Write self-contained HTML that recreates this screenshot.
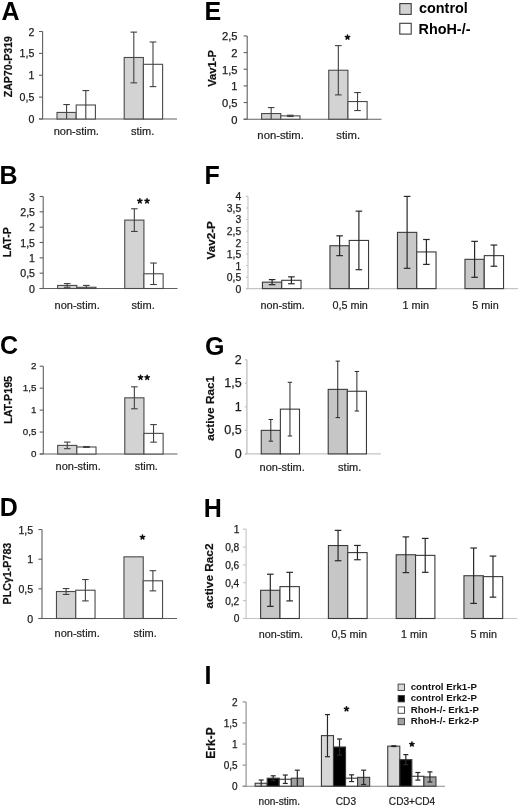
<!DOCTYPE html>
<html><head><meta charset="utf-8"><style>
html,body{margin:0;padding:0;background:#fff;}
svg{display:block;will-change:transform;font-family:"Liberation Sans", sans-serif;}
</style></head><body>
<svg width="520" height="807" viewBox="0 0 520 807">
<rect width="520" height="807" fill="#fff"/>
<line x1="42.6" y1="31.50" x2="42.6" y2="119" stroke="#606060" stroke-width="1.1"/>
<line x1="39.0" y1="119" x2="177" y2="119" stroke="#606060" stroke-width="1.1"/>
<rect x="57.00" y="112.44" width="19.20" height="6.56" fill="#d3d3d3" stroke="#4a4a4a" stroke-width="1.1"/>
<rect x="76.20" y="105.00" width="19.20" height="14.00" fill="#ffffff" stroke="#4a4a4a" stroke-width="1.1"/>
<line x1="66.60" y1="104.56" x2="66.60" y2="119.00" stroke="#404040" stroke-width="1.1"/>
<line x1="63.30" y1="104.56" x2="69.90" y2="104.56" stroke="#404040" stroke-width="1.1"/>
<line x1="85.80" y1="90.56" x2="85.80" y2="119.00" stroke="#404040" stroke-width="1.1"/>
<line x1="82.50" y1="90.56" x2="89.10" y2="90.56" stroke="#404040" stroke-width="1.1"/>
<rect x="124.20" y="57.49" width="19.20" height="61.51" fill="#d3d3d3" stroke="#4a4a4a" stroke-width="1.1"/>
<rect x="143.40" y="64.31" width="19.20" height="54.69" fill="#ffffff" stroke="#4a4a4a" stroke-width="1.1"/>
<line x1="133.80" y1="32.11" x2="133.80" y2="82.86" stroke="#404040" stroke-width="1.1"/>
<line x1="130.50" y1="32.11" x2="137.10" y2="32.11" stroke="#404040" stroke-width="1.1"/>
<line x1="130.50" y1="82.86" x2="137.10" y2="82.86" stroke="#404040" stroke-width="1.1"/>
<line x1="153.00" y1="42.00" x2="153.00" y2="86.62" stroke="#404040" stroke-width="1.1"/>
<line x1="149.70" y1="42.00" x2="156.30" y2="42.00" stroke="#404040" stroke-width="1.1"/>
<line x1="149.70" y1="86.62" x2="156.30" y2="86.62" stroke="#404040" stroke-width="1.1"/>
<line x1="39.0" y1="119.00" x2="42.6" y2="119.00" stroke="#606060" stroke-width="1.1"/>
<text x="34.3" y="123.09" text-anchor="end" font-size="10.6" font-weight="normal" fill="#1c1c1c" stroke="#1c1c1c" stroke-width="0.25">0</text>
<line x1="39.0" y1="97.12" x2="42.6" y2="97.12" stroke="#606060" stroke-width="1.1"/>
<text x="34.3" y="101.22" text-anchor="end" font-size="10.6" font-weight="normal" fill="#1c1c1c" stroke="#1c1c1c" stroke-width="0.25">0,5</text>
<line x1="39.0" y1="75.25" x2="42.6" y2="75.25" stroke="#606060" stroke-width="1.1"/>
<text x="34.3" y="79.34" text-anchor="end" font-size="10.6" font-weight="normal" fill="#1c1c1c" stroke="#1c1c1c" stroke-width="0.25">1</text>
<line x1="39.0" y1="53.38" x2="42.6" y2="53.38" stroke="#606060" stroke-width="1.1"/>
<text x="34.3" y="57.47" text-anchor="end" font-size="10.6" font-weight="normal" fill="#1c1c1c" stroke="#1c1c1c" stroke-width="0.25">1,5</text>
<line x1="39.0" y1="31.50" x2="42.6" y2="31.50" stroke="#606060" stroke-width="1.1"/>
<text x="34.3" y="35.59" text-anchor="end" font-size="10.6" font-weight="normal" fill="#1c1c1c" stroke="#1c1c1c" stroke-width="0.25">2</text>
<text x="76.3" y="135.2" text-anchor="middle" font-size="11" fill="#1c1c1c" stroke="#1c1c1c" stroke-width="0.2">non-stim.</text>
<text x="142.6" y="135.2" text-anchor="middle" font-size="11" fill="#1c1c1c" stroke="#1c1c1c" stroke-width="0.2">stim.</text>
<text transform="translate(11.8,66.7) rotate(-90)" text-anchor="middle" font-size="10.6" font-weight="bold" fill="#111" stroke="#111" stroke-width="0.2">ZAP70-P319</text>
<text x="1.6" y="19.6" font-size="25" font-weight="bold" fill="#000">A</text>
<line x1="43.2" y1="196.49" x2="43.2" y2="288.5" stroke="#606060" stroke-width="1.1"/>
<line x1="39.6" y1="288.5" x2="177.5" y2="288.5" stroke="#606060" stroke-width="1.1"/>
<rect x="57.59" y="285.43" width="19.19" height="3.07" fill="#d3d3d3" stroke="#4a4a4a" stroke-width="1.1"/>
<rect x="76.78" y="287.27" width="19.19" height="1.23" fill="#ffffff" stroke="#4a4a4a" stroke-width="1.1"/>
<line x1="67.18" y1="283.59" x2="67.18" y2="287.27" stroke="#404040" stroke-width="1.1"/>
<line x1="63.88" y1="283.59" x2="70.48" y2="283.59" stroke="#404040" stroke-width="1.1"/>
<line x1="63.88" y1="287.27" x2="70.48" y2="287.27" stroke="#404040" stroke-width="1.1"/>
<line x1="86.37" y1="285.43" x2="86.37" y2="288.50" stroke="#404040" stroke-width="1.1"/>
<line x1="83.07" y1="285.43" x2="89.67" y2="285.43" stroke="#404040" stroke-width="1.1"/>
<rect x="124.74" y="220.11" width="19.19" height="68.39" fill="#d3d3d3" stroke="#4a4a4a" stroke-width="1.1"/>
<rect x="143.93" y="273.78" width="19.19" height="14.72" fill="#ffffff" stroke="#4a4a4a" stroke-width="1.1"/>
<line x1="134.33" y1="208.76" x2="134.33" y2="231.45" stroke="#404040" stroke-width="1.1"/>
<line x1="131.03" y1="208.76" x2="137.63" y2="208.76" stroke="#404040" stroke-width="1.1"/>
<line x1="131.03" y1="231.45" x2="137.63" y2="231.45" stroke="#404040" stroke-width="1.1"/>
<line x1="153.52" y1="263.04" x2="153.52" y2="284.51" stroke="#404040" stroke-width="1.1"/>
<line x1="150.22" y1="263.04" x2="156.82" y2="263.04" stroke="#404040" stroke-width="1.1"/>
<line x1="150.22" y1="284.51" x2="156.82" y2="284.51" stroke="#404040" stroke-width="1.1"/>
<line x1="39.6" y1="288.50" x2="43.2" y2="288.50" stroke="#606060" stroke-width="1.1"/>
<text x="35.0" y="292.59" text-anchor="end" font-size="10.6" font-weight="normal" fill="#1c1c1c" stroke="#1c1c1c" stroke-width="0.25">0</text>
<line x1="39.6" y1="273.17" x2="43.2" y2="273.17" stroke="#606060" stroke-width="1.1"/>
<text x="35.0" y="277.26" text-anchor="end" font-size="10.6" font-weight="normal" fill="#1c1c1c" stroke="#1c1c1c" stroke-width="0.25">0,5</text>
<line x1="39.6" y1="257.83" x2="43.2" y2="257.83" stroke="#606060" stroke-width="1.1"/>
<text x="35.0" y="261.92" text-anchor="end" font-size="10.6" font-weight="normal" fill="#1c1c1c" stroke="#1c1c1c" stroke-width="0.25">1</text>
<line x1="39.6" y1="242.50" x2="43.2" y2="242.50" stroke="#606060" stroke-width="1.1"/>
<text x="35.0" y="246.59" text-anchor="end" font-size="10.6" font-weight="normal" fill="#1c1c1c" stroke="#1c1c1c" stroke-width="0.25">1,5</text>
<line x1="39.6" y1="227.16" x2="43.2" y2="227.16" stroke="#606060" stroke-width="1.1"/>
<text x="35.0" y="231.25" text-anchor="end" font-size="10.6" font-weight="normal" fill="#1c1c1c" stroke="#1c1c1c" stroke-width="0.25">2</text>
<line x1="39.6" y1="211.82" x2="43.2" y2="211.82" stroke="#606060" stroke-width="1.1"/>
<text x="35.0" y="215.92" text-anchor="end" font-size="10.6" font-weight="normal" fill="#1c1c1c" stroke="#1c1c1c" stroke-width="0.25">2,5</text>
<line x1="39.6" y1="196.49" x2="43.2" y2="196.49" stroke="#606060" stroke-width="1.1"/>
<text x="35.0" y="200.58" text-anchor="end" font-size="10.6" font-weight="normal" fill="#1c1c1c" stroke="#1c1c1c" stroke-width="0.25">3</text>
<text x="77.2" y="308.7" text-anchor="middle" font-size="11" fill="#1c1c1c" stroke="#1c1c1c" stroke-width="0.2">non-stim.</text>
<text x="143.1" y="308.7" text-anchor="middle" font-size="11" fill="#1c1c1c" stroke="#1c1c1c" stroke-width="0.2">stim.</text>
<text transform="translate(10.8,242.1) rotate(-90)" text-anchor="middle" font-size="10.7" font-weight="bold" fill="#111" stroke="#111" stroke-width="0.2">LAT-P</text>
<text x="-0.6" y="183.8" font-size="25" font-weight="bold" fill="#000">B</text>
<path d="M139.85,201.05L139.85,198.80M139.85,201.05L141.99,200.35M139.85,201.05L141.17,202.87M139.85,201.05L138.53,202.87M139.85,201.05L137.71,200.35" stroke="#111" stroke-width="1.55" stroke-linecap="round" fill="none"/>
<circle cx="139.85" cy="201.05" r="1.2" fill="#111"/>
<path d="M147.05,201.05L147.05,198.80M147.05,201.05L149.19,200.35M147.05,201.05L148.37,202.87M147.05,201.05L145.73,202.87M147.05,201.05L144.91,200.35" stroke="#111" stroke-width="1.55" stroke-linecap="round" fill="none"/>
<circle cx="147.05" cy="201.05" r="1.2" fill="#111"/>
<line x1="43.3" y1="366.20" x2="43.3" y2="454" stroke="#606060" stroke-width="1.1"/>
<line x1="39.699999999999996" y1="454" x2="177.5" y2="454" stroke="#606060" stroke-width="1.1"/>
<rect x="57.68" y="445.40" width="19.17" height="8.60" fill="#d3d3d3" stroke="#4a4a4a" stroke-width="1.1"/>
<rect x="76.85" y="446.98" width="19.17" height="7.02" fill="#ffffff" stroke="#4a4a4a" stroke-width="1.1"/>
<line x1="67.26" y1="442.10" x2="67.26" y2="448.69" stroke="#404040" stroke-width="1.1"/>
<line x1="63.96" y1="442.10" x2="70.56" y2="442.10" stroke="#404040" stroke-width="1.1"/>
<line x1="63.96" y1="448.69" x2="70.56" y2="448.69" stroke="#404040" stroke-width="1.1"/>
<line x1="86.44" y1="446.54" x2="86.44" y2="447.42" stroke="#404040" stroke-width="1.1"/>
<line x1="83.14" y1="446.54" x2="89.74" y2="446.54" stroke="#404040" stroke-width="1.1"/>
<line x1="83.14" y1="447.42" x2="89.74" y2="447.42" stroke="#404040" stroke-width="1.1"/>
<rect x="124.78" y="397.81" width="19.17" height="56.19" fill="#d3d3d3" stroke="#4a4a4a" stroke-width="1.1"/>
<rect x="143.95" y="433.37" width="19.17" height="20.63" fill="#ffffff" stroke="#4a4a4a" stroke-width="1.1"/>
<line x1="134.36" y1="386.83" x2="134.36" y2="408.78" stroke="#404040" stroke-width="1.1"/>
<line x1="131.06" y1="386.83" x2="137.66" y2="386.83" stroke="#404040" stroke-width="1.1"/>
<line x1="131.06" y1="408.78" x2="137.66" y2="408.78" stroke="#404040" stroke-width="1.1"/>
<line x1="153.54" y1="424.59" x2="153.54" y2="442.15" stroke="#404040" stroke-width="1.1"/>
<line x1="150.24" y1="424.59" x2="156.84" y2="424.59" stroke="#404040" stroke-width="1.1"/>
<line x1="150.24" y1="442.15" x2="156.84" y2="442.15" stroke="#404040" stroke-width="1.1"/>
<line x1="39.699999999999996" y1="454.00" x2="43.3" y2="454.00" stroke="#606060" stroke-width="1.1"/>
<text x="36.4" y="456.71" text-anchor="end" font-size="9.8" font-weight="normal" fill="#1c1c1c" stroke="#1c1c1c" stroke-width="0.25">0</text>
<line x1="39.699999999999996" y1="432.05" x2="43.3" y2="432.05" stroke="#606060" stroke-width="1.1"/>
<text x="36.4" y="434.76" text-anchor="end" font-size="9.8" font-weight="normal" fill="#1c1c1c" stroke="#1c1c1c" stroke-width="0.25">0,5</text>
<line x1="39.699999999999996" y1="410.10" x2="43.3" y2="410.10" stroke="#606060" stroke-width="1.1"/>
<text x="36.4" y="412.81" text-anchor="end" font-size="9.8" font-weight="normal" fill="#1c1c1c" stroke="#1c1c1c" stroke-width="0.25">1</text>
<line x1="39.699999999999996" y1="388.15" x2="43.3" y2="388.15" stroke="#606060" stroke-width="1.1"/>
<text x="36.4" y="390.86" text-anchor="end" font-size="9.8" font-weight="normal" fill="#1c1c1c" stroke="#1c1c1c" stroke-width="0.25">1,5</text>
<line x1="39.699999999999996" y1="366.20" x2="43.3" y2="366.20" stroke="#606060" stroke-width="1.1"/>
<text x="36.4" y="368.91" text-anchor="end" font-size="9.8" font-weight="normal" fill="#1c1c1c" stroke="#1c1c1c" stroke-width="0.25">2</text>
<text x="78.2" y="470.1" text-anchor="middle" font-size="11" fill="#1c1c1c" stroke="#1c1c1c" stroke-width="0.2">non-stim.</text>
<text x="146.3" y="470.1" text-anchor="middle" font-size="11" fill="#1c1c1c" stroke="#1c1c1c" stroke-width="0.2">stim.</text>
<text transform="translate(11.7,399.9) rotate(-90)" text-anchor="middle" font-size="10.7" font-weight="bold" fill="#111" stroke="#111" stroke-width="0.2">LAT-P195</text>
<text x="0.1" y="354.3" font-size="25" font-weight="bold" fill="#000">C</text>
<path d="M140.55,377.55L140.55,375.30M140.55,377.55L142.69,376.85M140.55,377.55L141.87,379.37M140.55,377.55L139.23,379.37M140.55,377.55L138.41,376.85" stroke="#111" stroke-width="1.55" stroke-linecap="round" fill="none"/>
<circle cx="140.55" cy="377.55" r="1.2" fill="#111"/>
<path d="M147.15,377.55L147.15,375.30M147.15,377.55L149.29,376.85M147.15,377.55L148.47,379.37M147.15,377.55L145.83,379.37M147.15,377.55L145.01,376.85" stroke="#111" stroke-width="1.55" stroke-linecap="round" fill="none"/>
<circle cx="147.15" cy="377.55" r="1.2" fill="#111"/>
<line x1="42.0" y1="529.55" x2="42.0" y2="618.5" stroke="#606060" stroke-width="1.1"/>
<line x1="38.4" y1="618.5" x2="177" y2="618.5" stroke="#606060" stroke-width="1.1"/>
<rect x="56.46" y="591.52" width="19.29" height="26.98" fill="#d3d3d3" stroke="#4a4a4a" stroke-width="1.1"/>
<rect x="75.75" y="590.21" width="19.29" height="28.29" fill="#ffffff" stroke="#4a4a4a" stroke-width="1.1"/>
<line x1="66.11" y1="588.55" x2="66.11" y2="594.48" stroke="#404040" stroke-width="1.1"/>
<line x1="62.81" y1="588.55" x2="69.41" y2="588.55" stroke="#404040" stroke-width="1.1"/>
<line x1="62.81" y1="594.48" x2="69.41" y2="594.48" stroke="#404040" stroke-width="1.1"/>
<line x1="85.39" y1="579.54" x2="85.39" y2="600.89" stroke="#404040" stroke-width="1.1"/>
<line x1="82.09" y1="579.54" x2="88.69" y2="579.54" stroke="#404040" stroke-width="1.1"/>
<line x1="82.09" y1="600.89" x2="88.69" y2="600.89" stroke="#404040" stroke-width="1.1"/>
<rect x="123.96" y="556.83" width="19.29" height="61.67" fill="#d3d3d3" stroke="#4a4a4a" stroke-width="1.1"/>
<rect x="143.25" y="580.79" width="19.29" height="37.71" fill="#ffffff" stroke="#4a4a4a" stroke-width="1.1"/>
<line x1="152.89" y1="570.70" x2="152.89" y2="590.87" stroke="#404040" stroke-width="1.1"/>
<line x1="149.59" y1="570.70" x2="156.19" y2="570.70" stroke="#404040" stroke-width="1.1"/>
<line x1="149.59" y1="590.87" x2="156.19" y2="590.87" stroke="#404040" stroke-width="1.1"/>
<line x1="38.4" y1="618.50" x2="42.0" y2="618.50" stroke="#606060" stroke-width="1.1"/>
<text x="33.2" y="622.59" text-anchor="end" font-size="10.6" font-weight="normal" fill="#1c1c1c" stroke="#1c1c1c" stroke-width="0.25">0</text>
<line x1="38.4" y1="588.85" x2="42.0" y2="588.85" stroke="#606060" stroke-width="1.1"/>
<text x="33.2" y="592.94" text-anchor="end" font-size="10.6" font-weight="normal" fill="#1c1c1c" stroke="#1c1c1c" stroke-width="0.25">0,5</text>
<line x1="38.4" y1="559.20" x2="42.0" y2="559.20" stroke="#606060" stroke-width="1.1"/>
<text x="33.2" y="563.29" text-anchor="end" font-size="10.6" font-weight="normal" fill="#1c1c1c" stroke="#1c1c1c" stroke-width="0.25">1</text>
<line x1="38.4" y1="529.55" x2="42.0" y2="529.55" stroke="#606060" stroke-width="1.1"/>
<text x="33.2" y="533.64" text-anchor="end" font-size="10.6" font-weight="normal" fill="#1c1c1c" stroke="#1c1c1c" stroke-width="0.25">1,5</text>
<text x="77.2" y="636.8" text-anchor="middle" font-size="11" fill="#1c1c1c" stroke="#1c1c1c" stroke-width="0.2">non-stim.</text>
<text x="145.2" y="636.8" text-anchor="middle" font-size="11" fill="#1c1c1c" stroke="#1c1c1c" stroke-width="0.2">stim.</text>
<text transform="translate(10.8,573.6) rotate(-90)" text-anchor="middle" font-size="10.7" font-weight="bold" fill="#111" stroke="#111" stroke-width="0.2">PLC&#947;1-P783</text>
<text x="-0.2" y="516.3" font-size="25" font-weight="bold" fill="#000">D</text>
<path d="M142.50,537.15L142.50,534.90M142.50,537.15L144.64,536.45M142.50,537.15L143.82,538.97M142.50,537.15L141.18,538.97M142.50,537.15L140.36,536.45" stroke="#111" stroke-width="1.55" stroke-linecap="round" fill="none"/>
<circle cx="142.50" cy="537.15" r="1.2" fill="#111"/>
<line x1="247.2" y1="35.95" x2="247.2" y2="119.2" stroke="#606060" stroke-width="1.1"/>
<line x1="243.6" y1="119.2" x2="381.5" y2="119.2" stroke="#606060" stroke-width="1.1"/>
<rect x="261.59" y="113.54" width="19.19" height="5.66" fill="#d3d3d3" stroke="#4a4a4a" stroke-width="1.1"/>
<rect x="280.78" y="115.87" width="19.19" height="3.33" fill="#ffffff" stroke="#4a4a4a" stroke-width="1.1"/>
<line x1="271.18" y1="107.55" x2="271.18" y2="119.20" stroke="#404040" stroke-width="1.1"/>
<line x1="267.88" y1="107.55" x2="274.48" y2="107.55" stroke="#404040" stroke-width="1.1"/>
<line x1="290.37" y1="115.20" x2="290.37" y2="116.54" stroke="#404040" stroke-width="1.1"/>
<line x1="287.07" y1="115.20" x2="293.67" y2="115.20" stroke="#404040" stroke-width="1.1"/>
<line x1="287.07" y1="116.54" x2="293.67" y2="116.54" stroke="#404040" stroke-width="1.1"/>
<rect x="328.74" y="70.25" width="19.19" height="48.95" fill="#d3d3d3" stroke="#4a4a4a" stroke-width="1.1"/>
<rect x="347.93" y="101.55" width="19.19" height="17.65" fill="#ffffff" stroke="#4a4a4a" stroke-width="1.1"/>
<line x1="338.33" y1="45.61" x2="338.33" y2="94.89" stroke="#404040" stroke-width="1.1"/>
<line x1="335.03" y1="45.61" x2="341.63" y2="45.61" stroke="#404040" stroke-width="1.1"/>
<line x1="335.03" y1="94.89" x2="341.63" y2="94.89" stroke="#404040" stroke-width="1.1"/>
<line x1="357.52" y1="92.56" x2="357.52" y2="110.54" stroke="#404040" stroke-width="1.1"/>
<line x1="354.22" y1="92.56" x2="360.82" y2="92.56" stroke="#404040" stroke-width="1.1"/>
<line x1="354.22" y1="110.54" x2="360.82" y2="110.54" stroke="#404040" stroke-width="1.1"/>
<line x1="243.6" y1="119.20" x2="247.2" y2="119.20" stroke="#606060" stroke-width="1.1"/>
<text x="237.5" y="123.51" text-anchor="end" font-size="11.2" font-weight="normal" fill="#1c1c1c" stroke="#1c1c1c" stroke-width="0.25">0</text>
<line x1="243.6" y1="102.55" x2="247.2" y2="102.55" stroke="#606060" stroke-width="1.1"/>
<text x="237.5" y="106.86" text-anchor="end" font-size="11.2" font-weight="normal" fill="#1c1c1c" stroke="#1c1c1c" stroke-width="0.25">0,5</text>
<line x1="243.6" y1="85.90" x2="247.2" y2="85.90" stroke="#606060" stroke-width="1.1"/>
<text x="237.5" y="90.21" text-anchor="end" font-size="11.2" font-weight="normal" fill="#1c1c1c" stroke="#1c1c1c" stroke-width="0.25">1</text>
<line x1="243.6" y1="69.25" x2="247.2" y2="69.25" stroke="#606060" stroke-width="1.1"/>
<text x="237.5" y="73.56" text-anchor="end" font-size="11.2" font-weight="normal" fill="#1c1c1c" stroke="#1c1c1c" stroke-width="0.25">1,5</text>
<line x1="243.6" y1="52.60" x2="247.2" y2="52.60" stroke="#606060" stroke-width="1.1"/>
<text x="237.5" y="56.91" text-anchor="end" font-size="11.2" font-weight="normal" fill="#1c1c1c" stroke="#1c1c1c" stroke-width="0.25">2</text>
<line x1="243.6" y1="35.95" x2="247.2" y2="35.95" stroke="#606060" stroke-width="1.1"/>
<text x="237.5" y="40.26" text-anchor="end" font-size="11.2" font-weight="normal" fill="#1c1c1c" stroke="#1c1c1c" stroke-width="0.25">2,5</text>
<text x="280.6" y="138.8" text-anchor="middle" font-size="11.3" fill="#1c1c1c" stroke="#1c1c1c" stroke-width="0.2">non-stim.</text>
<text x="348.2" y="138.8" text-anchor="middle" font-size="11.3" fill="#1c1c1c" stroke="#1c1c1c" stroke-width="0.2">stim.</text>
<text transform="translate(215.9,68.5) rotate(-90)" text-anchor="middle" font-size="11.2" font-weight="bold" fill="#111" stroke="#111" stroke-width="0.2">Vav1-P</text>
<text x="204.6" y="19.9" font-size="25" font-weight="bold" fill="#000">E</text>
<path d="M347.50,37.25L347.50,35.00M347.50,37.25L349.64,36.55M347.50,37.25L348.82,39.07M347.50,37.25L346.18,39.07M347.50,37.25L345.36,36.55" stroke="#111" stroke-width="1.55" stroke-linecap="round" fill="none"/>
<circle cx="347.50" cy="37.25" r="1.2" fill="#111"/>
<line x1="248.0" y1="196.40" x2="248.0" y2="288.6" stroke="#c4c4c4" stroke-width="1.1"/>
<line x1="246.0" y1="288.6" x2="518" y2="288.6" stroke="#c4c4c4" stroke-width="1.1"/>
<rect x="262.46" y="282.15" width="19.29" height="6.45" fill="#c9c9c9" stroke="#3a3a3a" stroke-width="1.1"/>
<rect x="281.75" y="280.30" width="19.29" height="8.30" fill="#ffffff" stroke="#3a3a3a" stroke-width="1.1"/>
<line x1="272.11" y1="279.61" x2="272.11" y2="284.68" stroke="#282828" stroke-width="1.2"/>
<line x1="268.81" y1="279.61" x2="275.41" y2="279.61" stroke="#282828" stroke-width="1.2"/>
<line x1="268.81" y1="284.68" x2="275.41" y2="284.68" stroke="#282828" stroke-width="1.2"/>
<line x1="291.39" y1="276.84" x2="291.39" y2="283.76" stroke="#282828" stroke-width="1.2"/>
<line x1="288.09" y1="276.84" x2="294.69" y2="276.84" stroke="#282828" stroke-width="1.2"/>
<line x1="288.09" y1="283.76" x2="294.69" y2="283.76" stroke="#282828" stroke-width="1.2"/>
<rect x="329.96" y="245.73" width="19.29" height="42.87" fill="#c9c9c9" stroke="#3a3a3a" stroke-width="1.1"/>
<rect x="349.25" y="240.43" width="19.29" height="48.17" fill="#ffffff" stroke="#3a3a3a" stroke-width="1.1"/>
<line x1="339.61" y1="235.82" x2="339.61" y2="255.64" stroke="#282828" stroke-width="1.2"/>
<line x1="336.31" y1="235.82" x2="342.91" y2="235.82" stroke="#282828" stroke-width="1.2"/>
<line x1="336.31" y1="255.64" x2="342.91" y2="255.64" stroke="#282828" stroke-width="1.2"/>
<line x1="358.89" y1="211.15" x2="358.89" y2="269.70" stroke="#282828" stroke-width="1.2"/>
<line x1="355.59" y1="211.15" x2="362.19" y2="211.15" stroke="#282828" stroke-width="1.2"/>
<line x1="355.59" y1="269.70" x2="362.19" y2="269.70" stroke="#282828" stroke-width="1.2"/>
<rect x="397.46" y="232.36" width="19.29" height="56.24" fill="#c9c9c9" stroke="#3a3a3a" stroke-width="1.1"/>
<rect x="416.75" y="251.95" width="19.29" height="36.65" fill="#ffffff" stroke="#3a3a3a" stroke-width="1.1"/>
<line x1="407.11" y1="196.40" x2="407.11" y2="268.32" stroke="#282828" stroke-width="1.2"/>
<line x1="403.81" y1="196.40" x2="410.41" y2="196.40" stroke="#282828" stroke-width="1.2"/>
<line x1="403.81" y1="268.32" x2="410.41" y2="268.32" stroke="#282828" stroke-width="1.2"/>
<line x1="426.39" y1="239.50" x2="426.39" y2="264.40" stroke="#282828" stroke-width="1.2"/>
<line x1="423.09" y1="239.50" x2="429.69" y2="239.50" stroke="#282828" stroke-width="1.2"/>
<line x1="423.09" y1="264.40" x2="429.69" y2="264.40" stroke="#282828" stroke-width="1.2"/>
<rect x="464.96" y="259.33" width="19.29" height="29.27" fill="#c9c9c9" stroke="#3a3a3a" stroke-width="1.1"/>
<rect x="484.25" y="255.64" width="19.29" height="32.96" fill="#ffffff" stroke="#3a3a3a" stroke-width="1.1"/>
<line x1="474.61" y1="241.35" x2="474.61" y2="277.31" stroke="#282828" stroke-width="1.2"/>
<line x1="471.31" y1="241.35" x2="477.91" y2="241.35" stroke="#282828" stroke-width="1.2"/>
<line x1="471.31" y1="277.31" x2="477.91" y2="277.31" stroke="#282828" stroke-width="1.2"/>
<line x1="493.89" y1="245.04" x2="493.89" y2="266.24" stroke="#282828" stroke-width="1.2"/>
<line x1="490.59" y1="245.04" x2="497.19" y2="245.04" stroke="#282828" stroke-width="1.2"/>
<line x1="490.59" y1="266.24" x2="497.19" y2="266.24" stroke="#282828" stroke-width="1.2"/>
<line x1="246.0" y1="288.60" x2="248.0" y2="288.60" stroke="#c4c4c4" stroke-width="1.1"/>
<text x="241.3" y="292.62" text-anchor="end" font-size="10.4" font-weight="normal" fill="#1c1c1c" stroke="#1c1c1c" stroke-width="0.25">0</text>
<line x1="246.0" y1="277.08" x2="248.0" y2="277.08" stroke="#c4c4c4" stroke-width="1.1"/>
<text x="241.3" y="281.10" text-anchor="end" font-size="10.4" font-weight="normal" fill="#1c1c1c" stroke="#1c1c1c" stroke-width="0.25">0,5</text>
<line x1="246.0" y1="265.55" x2="248.0" y2="265.55" stroke="#c4c4c4" stroke-width="1.1"/>
<text x="241.3" y="269.57" text-anchor="end" font-size="10.4" font-weight="normal" fill="#1c1c1c" stroke="#1c1c1c" stroke-width="0.25">1</text>
<line x1="246.0" y1="254.03" x2="248.0" y2="254.03" stroke="#c4c4c4" stroke-width="1.1"/>
<text x="241.3" y="258.05" text-anchor="end" font-size="10.4" font-weight="normal" fill="#1c1c1c" stroke="#1c1c1c" stroke-width="0.25">1,5</text>
<line x1="246.0" y1="242.50" x2="248.0" y2="242.50" stroke="#c4c4c4" stroke-width="1.1"/>
<text x="241.3" y="246.52" text-anchor="end" font-size="10.4" font-weight="normal" fill="#1c1c1c" stroke="#1c1c1c" stroke-width="0.25">2</text>
<line x1="246.0" y1="230.98" x2="248.0" y2="230.98" stroke="#c4c4c4" stroke-width="1.1"/>
<text x="241.3" y="235.00" text-anchor="end" font-size="10.4" font-weight="normal" fill="#1c1c1c" stroke="#1c1c1c" stroke-width="0.25">2,5</text>
<line x1="246.0" y1="219.45" x2="248.0" y2="219.45" stroke="#c4c4c4" stroke-width="1.1"/>
<text x="241.3" y="223.47" text-anchor="end" font-size="10.4" font-weight="normal" fill="#1c1c1c" stroke="#1c1c1c" stroke-width="0.25">3</text>
<line x1="246.0" y1="207.93" x2="248.0" y2="207.93" stroke="#c4c4c4" stroke-width="1.1"/>
<text x="241.3" y="211.95" text-anchor="end" font-size="10.4" font-weight="normal" fill="#1c1c1c" stroke="#1c1c1c" stroke-width="0.25">3,5</text>
<line x1="246.0" y1="196.40" x2="248.0" y2="196.40" stroke="#c4c4c4" stroke-width="1.1"/>
<text x="241.3" y="200.42" text-anchor="end" font-size="10.4" font-weight="normal" fill="#1c1c1c" stroke="#1c1c1c" stroke-width="0.25">4</text>
<text x="282.6" y="308.7" text-anchor="middle" font-size="10.8" fill="#1c1c1c" stroke="#1c1c1c" stroke-width="0.2">non-stim.</text>
<text x="350.1" y="308.7" text-anchor="middle" font-size="10.8" fill="#1c1c1c" stroke="#1c1c1c" stroke-width="0.2">0,5 min</text>
<text x="415.7" y="308.7" text-anchor="middle" font-size="10.8" fill="#1c1c1c" stroke="#1c1c1c" stroke-width="0.2">1 min</text>
<text x="485.5" y="308.7" text-anchor="middle" font-size="10.8" fill="#1c1c1c" stroke="#1c1c1c" stroke-width="0.2">5 min</text>
<text transform="translate(214.9,240.3) rotate(-90)" text-anchor="middle" font-size="11.7" font-weight="bold" fill="#111" stroke="#111" stroke-width="0.2">Vav2-P</text>
<text x="204.6" y="183.8" font-size="25" font-weight="bold" fill="#000">F</text>
<line x1="246.9" y1="359.70" x2="246.9" y2="453.9" stroke="#c4c4c4" stroke-width="1.4"/>
<line x1="244.9" y1="453.9" x2="380.8" y2="453.9" stroke="#c4c4c4" stroke-width="1.4"/>
<rect x="261.25" y="430.35" width="19.13" height="23.55" fill="#c6c6c6" stroke="#3a3a3a" stroke-width="1.1"/>
<rect x="280.38" y="409.15" width="19.13" height="44.75" fill="#ffffff" stroke="#3a3a3a" stroke-width="1.1"/>
<line x1="270.81" y1="419.52" x2="270.81" y2="441.18" stroke="#282828" stroke-width="1"/>
<line x1="268.61" y1="419.52" x2="273.01" y2="419.52" stroke="#282828" stroke-width="1"/>
<line x1="268.61" y1="441.18" x2="273.01" y2="441.18" stroke="#282828" stroke-width="1"/>
<line x1="289.94" y1="382.31" x2="289.94" y2="436.00" stroke="#282828" stroke-width="1"/>
<line x1="287.74" y1="382.31" x2="292.14" y2="382.31" stroke="#282828" stroke-width="1"/>
<line x1="287.74" y1="436.00" x2="292.14" y2="436.00" stroke="#282828" stroke-width="1"/>
<rect x="328.20" y="389.37" width="19.13" height="64.53" fill="#c6c6c6" stroke="#3a3a3a" stroke-width="1.1"/>
<rect x="347.33" y="391.26" width="19.13" height="62.64" fill="#ffffff" stroke="#3a3a3a" stroke-width="1.1"/>
<line x1="337.76" y1="361.11" x2="337.76" y2="417.63" stroke="#282828" stroke-width="1"/>
<line x1="335.56" y1="361.11" x2="339.96" y2="361.11" stroke="#282828" stroke-width="1"/>
<line x1="335.56" y1="417.63" x2="339.96" y2="417.63" stroke="#282828" stroke-width="1"/>
<line x1="356.89" y1="371.47" x2="356.89" y2="411.04" stroke="#282828" stroke-width="1"/>
<line x1="354.69" y1="371.47" x2="359.09" y2="371.47" stroke="#282828" stroke-width="1"/>
<line x1="354.69" y1="411.04" x2="359.09" y2="411.04" stroke="#282828" stroke-width="1"/>
<line x1="244.9" y1="453.90" x2="246.9" y2="453.90" stroke="#c4c4c4" stroke-width="1.4"/>
<text x="241.7" y="457.77" text-anchor="end" font-size="12.5" font-weight="normal" fill="#1c1c1c" stroke="#1c1c1c" stroke-width="0.25">0</text>
<line x1="244.9" y1="430.35" x2="246.9" y2="430.35" stroke="#c4c4c4" stroke-width="1.4"/>
<text x="241.7" y="434.22" text-anchor="end" font-size="12.5" font-weight="normal" fill="#1c1c1c" stroke="#1c1c1c" stroke-width="0.25">0,5</text>
<line x1="244.9" y1="406.80" x2="246.9" y2="406.80" stroke="#c4c4c4" stroke-width="1.4"/>
<text x="241.7" y="410.67" text-anchor="end" font-size="12.5" font-weight="normal" fill="#1c1c1c" stroke="#1c1c1c" stroke-width="0.25">1</text>
<line x1="244.9" y1="383.25" x2="246.9" y2="383.25" stroke="#c4c4c4" stroke-width="1.4"/>
<text x="241.7" y="387.12" text-anchor="end" font-size="12.5" font-weight="normal" fill="#1c1c1c" stroke="#1c1c1c" stroke-width="0.25">1,5</text>
<line x1="244.9" y1="359.70" x2="246.9" y2="359.70" stroke="#c4c4c4" stroke-width="1.4"/>
<text x="241.7" y="363.57" text-anchor="end" font-size="12.5" font-weight="normal" fill="#1c1c1c" stroke="#1c1c1c" stroke-width="0.25">2</text>
<text x="282.2" y="471.1" text-anchor="middle" font-size="11" fill="#1c1c1c" stroke="#1c1c1c" stroke-width="0.2">non-stim.</text>
<text x="349.7" y="471.1" text-anchor="middle" font-size="11" fill="#1c1c1c" stroke="#1c1c1c" stroke-width="0.2">stim.</text>
<text transform="translate(213.9,408.3) rotate(-90)" text-anchor="middle" font-size="11.8" font-weight="bold" fill="#111" stroke="#111" stroke-width="0.2">active Rac1</text>
<text x="204.9" y="354.5" font-size="25" font-weight="bold" fill="#000">G</text>
<line x1="246.1" y1="529.20" x2="246.1" y2="618.5" stroke="#c4c4c4" stroke-width="1.1"/>
<line x1="242.9" y1="618.5" x2="517.2" y2="618.5" stroke="#c4c4c4" stroke-width="1.1"/>
<rect x="260.62" y="590.28" width="19.36" height="28.22" fill="#c6c6c6" stroke="#3a3a3a" stroke-width="1.1"/>
<rect x="279.99" y="586.62" width="19.36" height="31.88" fill="#ffffff" stroke="#3a3a3a" stroke-width="1.1"/>
<line x1="270.31" y1="574.21" x2="270.31" y2="606.36" stroke="#282828" stroke-width="1.2"/>
<line x1="267.01" y1="574.21" x2="273.61" y2="574.21" stroke="#282828" stroke-width="1.2"/>
<line x1="267.01" y1="606.36" x2="273.61" y2="606.36" stroke="#282828" stroke-width="1.2"/>
<line x1="289.67" y1="572.33" x2="289.67" y2="600.91" stroke="#282828" stroke-width="1.2"/>
<line x1="286.37" y1="572.33" x2="292.97" y2="572.33" stroke="#282828" stroke-width="1.2"/>
<line x1="286.37" y1="600.91" x2="292.97" y2="600.91" stroke="#282828" stroke-width="1.2"/>
<rect x="328.40" y="545.54" width="19.36" height="72.96" fill="#c6c6c6" stroke="#3a3a3a" stroke-width="1.1"/>
<rect x="347.76" y="552.60" width="19.36" height="65.90" fill="#ffffff" stroke="#3a3a3a" stroke-width="1.1"/>
<line x1="338.08" y1="530.36" x2="338.08" y2="560.72" stroke="#282828" stroke-width="1.2"/>
<line x1="334.78" y1="530.36" x2="341.38" y2="530.36" stroke="#282828" stroke-width="1.2"/>
<line x1="334.78" y1="560.72" x2="341.38" y2="560.72" stroke="#282828" stroke-width="1.2"/>
<line x1="357.44" y1="545.45" x2="357.44" y2="559.74" stroke="#282828" stroke-width="1.2"/>
<line x1="354.14" y1="545.45" x2="360.74" y2="545.45" stroke="#282828" stroke-width="1.2"/>
<line x1="354.14" y1="559.74" x2="360.74" y2="559.74" stroke="#282828" stroke-width="1.2"/>
<rect x="396.17" y="554.74" width="19.36" height="63.76" fill="#c6c6c6" stroke="#3a3a3a" stroke-width="1.1"/>
<rect x="415.54" y="555.36" width="19.36" height="63.14" fill="#ffffff" stroke="#3a3a3a" stroke-width="1.1"/>
<line x1="405.86" y1="536.88" x2="405.86" y2="572.60" stroke="#282828" stroke-width="1.2"/>
<line x1="402.56" y1="536.88" x2="409.16" y2="536.88" stroke="#282828" stroke-width="1.2"/>
<line x1="402.56" y1="572.60" x2="409.16" y2="572.60" stroke="#282828" stroke-width="1.2"/>
<line x1="425.22" y1="538.40" x2="425.22" y2="572.33" stroke="#282828" stroke-width="1.2"/>
<line x1="421.92" y1="538.40" x2="428.52" y2="538.40" stroke="#282828" stroke-width="1.2"/>
<line x1="421.92" y1="572.33" x2="428.52" y2="572.33" stroke="#282828" stroke-width="1.2"/>
<rect x="463.95" y="575.73" width="19.36" height="42.77" fill="#c6c6c6" stroke="#3a3a3a" stroke-width="1.1"/>
<rect x="483.31" y="576.62" width="19.36" height="41.88" fill="#ffffff" stroke="#3a3a3a" stroke-width="1.1"/>
<line x1="473.63" y1="548.04" x2="473.63" y2="603.41" stroke="#282828" stroke-width="1.2"/>
<line x1="470.33" y1="548.04" x2="476.93" y2="548.04" stroke="#282828" stroke-width="1.2"/>
<line x1="470.33" y1="603.41" x2="476.93" y2="603.41" stroke="#282828" stroke-width="1.2"/>
<line x1="492.99" y1="556.08" x2="492.99" y2="597.16" stroke="#282828" stroke-width="1.2"/>
<line x1="489.69" y1="556.08" x2="496.29" y2="556.08" stroke="#282828" stroke-width="1.2"/>
<line x1="489.69" y1="597.16" x2="496.29" y2="597.16" stroke="#282828" stroke-width="1.2"/>
<line x1="242.9" y1="618.50" x2="246.1" y2="618.50" stroke="#c4c4c4" stroke-width="1.1"/>
<text x="239.3" y="622.45" text-anchor="end" font-size="10.2" font-weight="normal" fill="#1c1c1c" stroke="#1c1c1c" stroke-width="0.25">0</text>
<line x1="242.9" y1="600.64" x2="246.1" y2="600.64" stroke="#c4c4c4" stroke-width="1.1"/>
<text x="239.3" y="604.59" text-anchor="end" font-size="10.2" font-weight="normal" fill="#1c1c1c" stroke="#1c1c1c" stroke-width="0.25">0,2</text>
<line x1="242.9" y1="582.78" x2="246.1" y2="582.78" stroke="#c4c4c4" stroke-width="1.1"/>
<text x="239.3" y="586.73" text-anchor="end" font-size="10.2" font-weight="normal" fill="#1c1c1c" stroke="#1c1c1c" stroke-width="0.25">0,4</text>
<line x1="242.9" y1="564.92" x2="246.1" y2="564.92" stroke="#c4c4c4" stroke-width="1.1"/>
<text x="239.3" y="568.87" text-anchor="end" font-size="10.2" font-weight="normal" fill="#1c1c1c" stroke="#1c1c1c" stroke-width="0.25">0,6</text>
<line x1="242.9" y1="547.06" x2="246.1" y2="547.06" stroke="#c4c4c4" stroke-width="1.1"/>
<text x="239.3" y="551.01" text-anchor="end" font-size="10.2" font-weight="normal" fill="#1c1c1c" stroke="#1c1c1c" stroke-width="0.25">0,8</text>
<line x1="242.9" y1="529.20" x2="246.1" y2="529.20" stroke="#c4c4c4" stroke-width="1.1"/>
<text x="239.3" y="533.15" text-anchor="end" font-size="10.2" font-weight="normal" fill="#1c1c1c" stroke="#1c1c1c" stroke-width="0.25">1</text>
<text x="280.9" y="637.6" text-anchor="middle" font-size="10.8" fill="#1c1c1c" stroke="#1c1c1c" stroke-width="0.2">non-stim.</text>
<text x="349.2" y="637.6" text-anchor="middle" font-size="10.8" fill="#1c1c1c" stroke="#1c1c1c" stroke-width="0.2">0,5 min</text>
<text x="414.2" y="637.6" text-anchor="middle" font-size="10.8" fill="#1c1c1c" stroke="#1c1c1c" stroke-width="0.2">1 min</text>
<text x="483.7" y="637.6" text-anchor="middle" font-size="10.8" fill="#1c1c1c" stroke="#1c1c1c" stroke-width="0.2">5 min</text>
<text transform="translate(212.9,576) rotate(-90)" text-anchor="middle" font-size="11.8" font-weight="bold" fill="#111" stroke="#111" stroke-width="0.2">active Rac2</text>
<text x="203.8" y="516.8" font-size="25" font-weight="bold" fill="#000">H</text>
<line x1="246.1" y1="701.90" x2="246.1" y2="786.2" stroke="#8a8a8a" stroke-width="1.1"/>
<line x1="242.6" y1="786.2" x2="445" y2="786.2" stroke="#8a8a8a" stroke-width="1.1"/>
<rect x="255.14" y="783.25" width="12.05" height="2.95" fill="#d8d8d8" stroke="#3a3a3a" stroke-width="1.1"/>
<rect x="267.20" y="778.19" width="12.05" height="8.01" fill="#000000" stroke="#3a3a3a" stroke-width="1.1"/>
<rect x="279.25" y="779.25" width="12.05" height="6.95" fill="#ffffff" stroke="#3a3a3a" stroke-width="1.1"/>
<rect x="291.30" y="778.19" width="12.05" height="8.01" fill="#a0a0a0" stroke="#3a3a3a" stroke-width="1.1"/>
<line x1="261.17" y1="780.00" x2="261.17" y2="786.20" stroke="#282828" stroke-width="1.2"/>
<line x1="258.67" y1="780.00" x2="263.67" y2="780.00" stroke="#282828" stroke-width="1.2"/>
<line x1="273.22" y1="775.79" x2="273.22" y2="780.59" stroke="#282828" stroke-width="1.2"/>
<line x1="270.72" y1="775.79" x2="275.72" y2="775.79" stroke="#282828" stroke-width="1.2"/>
<line x1="270.72" y1="780.59" x2="275.72" y2="780.59" stroke="#282828" stroke-width="1.2"/>
<line x1="285.28" y1="775.03" x2="285.28" y2="783.46" stroke="#282828" stroke-width="1.2"/>
<line x1="282.78" y1="775.03" x2="287.78" y2="775.03" stroke="#282828" stroke-width="1.2"/>
<line x1="282.78" y1="783.46" x2="287.78" y2="783.46" stroke="#282828" stroke-width="1.2"/>
<line x1="297.33" y1="770.18" x2="297.33" y2="786.20" stroke="#282828" stroke-width="1.2"/>
<line x1="294.83" y1="770.18" x2="299.83" y2="770.18" stroke="#282828" stroke-width="1.2"/>
<rect x="321.44" y="735.62" width="12.05" height="50.58" fill="#d8d8d8" stroke="#3a3a3a" stroke-width="1.1"/>
<rect x="333.50" y="747.00" width="12.05" height="39.20" fill="#000000" stroke="#3a3a3a" stroke-width="1.1"/>
<rect x="345.55" y="778.19" width="12.05" height="8.01" fill="#ffffff" stroke="#3a3a3a" stroke-width="1.1"/>
<rect x="357.60" y="777.35" width="12.05" height="8.85" fill="#a0a0a0" stroke="#3a3a3a" stroke-width="1.1"/>
<line x1="327.47" y1="714.55" x2="327.47" y2="756.70" stroke="#282828" stroke-width="1.2"/>
<line x1="324.97" y1="714.55" x2="329.97" y2="714.55" stroke="#282828" stroke-width="1.2"/>
<line x1="324.97" y1="756.70" x2="329.97" y2="756.70" stroke="#282828" stroke-width="1.2"/>
<line x1="339.52" y1="738.99" x2="339.52" y2="755.01" stroke="#282828" stroke-width="1.2"/>
<line x1="337.02" y1="738.99" x2="342.02" y2="738.99" stroke="#282828" stroke-width="1.2"/>
<line x1="337.02" y1="755.01" x2="342.02" y2="755.01" stroke="#282828" stroke-width="1.2"/>
<line x1="351.58" y1="774.82" x2="351.58" y2="781.56" stroke="#282828" stroke-width="1.2"/>
<line x1="349.08" y1="774.82" x2="354.08" y2="774.82" stroke="#282828" stroke-width="1.2"/>
<line x1="349.08" y1="781.56" x2="354.08" y2="781.56" stroke="#282828" stroke-width="1.2"/>
<line x1="363.63" y1="770.18" x2="363.63" y2="784.51" stroke="#282828" stroke-width="1.2"/>
<line x1="361.13" y1="770.18" x2="366.13" y2="770.18" stroke="#282828" stroke-width="1.2"/>
<line x1="361.13" y1="784.51" x2="366.13" y2="784.51" stroke="#282828" stroke-width="1.2"/>
<rect x="387.74" y="746.16" width="12.05" height="40.04" fill="#d8d8d8" stroke="#3a3a3a" stroke-width="1.1"/>
<rect x="399.80" y="759.65" width="12.05" height="26.55" fill="#000000" stroke="#3a3a3a" stroke-width="1.1"/>
<rect x="411.85" y="776.29" width="12.05" height="9.91" fill="#ffffff" stroke="#3a3a3a" stroke-width="1.1"/>
<rect x="423.90" y="776.93" width="12.05" height="9.27" fill="#a0a0a0" stroke="#3a3a3a" stroke-width="1.1"/>
<line x1="393.77" y1="745.74" x2="393.77" y2="746.58" stroke="#282828" stroke-width="1.2"/>
<line x1="391.27" y1="745.74" x2="396.27" y2="745.74" stroke="#282828" stroke-width="1.2"/>
<line x1="391.27" y1="746.58" x2="396.27" y2="746.58" stroke="#282828" stroke-width="1.2"/>
<line x1="405.82" y1="754.59" x2="405.82" y2="764.70" stroke="#282828" stroke-width="1.2"/>
<line x1="403.32" y1="754.59" x2="408.32" y2="754.59" stroke="#282828" stroke-width="1.2"/>
<line x1="403.32" y1="764.70" x2="408.32" y2="764.70" stroke="#282828" stroke-width="1.2"/>
<line x1="417.88" y1="772.50" x2="417.88" y2="780.09" stroke="#282828" stroke-width="1.2"/>
<line x1="415.38" y1="772.50" x2="420.38" y2="772.50" stroke="#282828" stroke-width="1.2"/>
<line x1="415.38" y1="780.09" x2="420.38" y2="780.09" stroke="#282828" stroke-width="1.2"/>
<line x1="429.93" y1="771.87" x2="429.93" y2="781.99" stroke="#282828" stroke-width="1.2"/>
<line x1="427.43" y1="771.87" x2="432.43" y2="771.87" stroke="#282828" stroke-width="1.2"/>
<line x1="427.43" y1="781.99" x2="432.43" y2="781.99" stroke="#282828" stroke-width="1.2"/>
<line x1="242.6" y1="786.20" x2="246.1" y2="786.20" stroke="#8a8a8a" stroke-width="1.1"/>
<text x="237.6" y="790.08" text-anchor="end" font-size="10" font-weight="normal" fill="#1c1c1c" stroke="#1c1c1c" stroke-width="0.25">0</text>
<line x1="242.6" y1="765.12" x2="246.1" y2="765.12" stroke="#8a8a8a" stroke-width="1.1"/>
<text x="237.6" y="769.00" text-anchor="end" font-size="10" font-weight="normal" fill="#1c1c1c" stroke="#1c1c1c" stroke-width="0.25">0,5</text>
<line x1="242.6" y1="744.05" x2="246.1" y2="744.05" stroke="#8a8a8a" stroke-width="1.1"/>
<text x="237.6" y="747.93" text-anchor="end" font-size="10" font-weight="normal" fill="#1c1c1c" stroke="#1c1c1c" stroke-width="0.25">1</text>
<line x1="242.6" y1="722.98" x2="246.1" y2="722.98" stroke="#8a8a8a" stroke-width="1.1"/>
<text x="237.6" y="726.86" text-anchor="end" font-size="10" font-weight="normal" fill="#1c1c1c" stroke="#1c1c1c" stroke-width="0.25">1,5</text>
<line x1="242.6" y1="701.90" x2="246.1" y2="701.90" stroke="#8a8a8a" stroke-width="1.1"/>
<text x="237.6" y="705.78" text-anchor="end" font-size="10" font-weight="normal" fill="#1c1c1c" stroke="#1c1c1c" stroke-width="0.25">2</text>
<text x="279.3" y="804.7" text-anchor="middle" font-size="10.1" fill="#1c1c1c" stroke="#1c1c1c" stroke-width="0.2">non-stim.</text>
<text x="345.9" y="804.7" text-anchor="middle" font-size="10.1" fill="#1c1c1c" stroke="#1c1c1c" stroke-width="0.2">CD3</text>
<text x="412" y="804.7" text-anchor="middle" font-size="10.1" fill="#1c1c1c" stroke="#1c1c1c" stroke-width="0.2">CD3+CD4</text>
<text transform="translate(215,743) rotate(-90)" text-anchor="middle" font-size="12" font-weight="bold" fill="#111" stroke="#111" stroke-width="0.2">Erk-P</text>
<text x="204.4" y="683.7" font-size="25" font-weight="bold" fill="#000">I</text>
<path d="M346.50,708.95L346.50,706.70M346.50,708.95L348.64,708.25M346.50,708.95L347.82,710.77M346.50,708.95L345.18,710.77M346.50,708.95L344.36,708.25" stroke="#111" stroke-width="1.55" stroke-linecap="round" fill="none"/>
<circle cx="346.50" cy="708.95" r="1.2" fill="#111"/>
<path d="M411.90,744.15L411.90,741.90M411.90,744.15L414.04,743.45M411.90,744.15L413.22,745.97M411.90,744.15L410.58,745.97M411.90,744.15L409.76,743.45" stroke="#111" stroke-width="1.55" stroke-linecap="round" fill="none"/>
<circle cx="411.90" cy="744.15" r="1.2" fill="#111"/>
<rect x="399.8" y="3.6" width="11.4" height="10.8" fill="#d3d3d3" stroke="#3a3a3a" stroke-width="1.1"/>
<rect x="399.8" y="23.3" width="11.4" height="10.8" fill="#fff" stroke="#3a3a3a" stroke-width="1.1"/>
<text x="419" y="12.6" font-size="14.4" font-weight="bold" fill="#000">control</text>
<text x="418.5" y="34.2" font-size="14.4" font-weight="bold" fill="#000">RhoH-/-</text>
<rect x="398.1" y="684.10" width="6.4" height="6.4" fill="#d8d8d8" stroke="#3a3a3a" stroke-width="0.9"/>
<text x="410.7" y="689.90" font-size="9.7" font-weight="bold" fill="#111">control Erk1-P</text>
<rect x="398.1" y="695.50" width="6.4" height="6.4" fill="#000000" stroke="#3a3a3a" stroke-width="0.9"/>
<text x="410.7" y="701.30" font-size="9.7" font-weight="bold" fill="#111">control Erk2-P</text>
<rect x="398.1" y="706.90" width="6.4" height="6.4" fill="#ffffff" stroke="#3a3a3a" stroke-width="0.9"/>
<text x="410.7" y="712.70" font-size="9.7" font-weight="bold" fill="#111">RhoH-/- Erk1-P</text>
<rect x="398.1" y="718.30" width="6.4" height="6.4" fill="#a0a0a0" stroke="#3a3a3a" stroke-width="0.9"/>
<text x="410.7" y="724.10" font-size="9.7" font-weight="bold" fill="#111">RhoH-/- Erk2-P</text>
</svg>
</body></html>
